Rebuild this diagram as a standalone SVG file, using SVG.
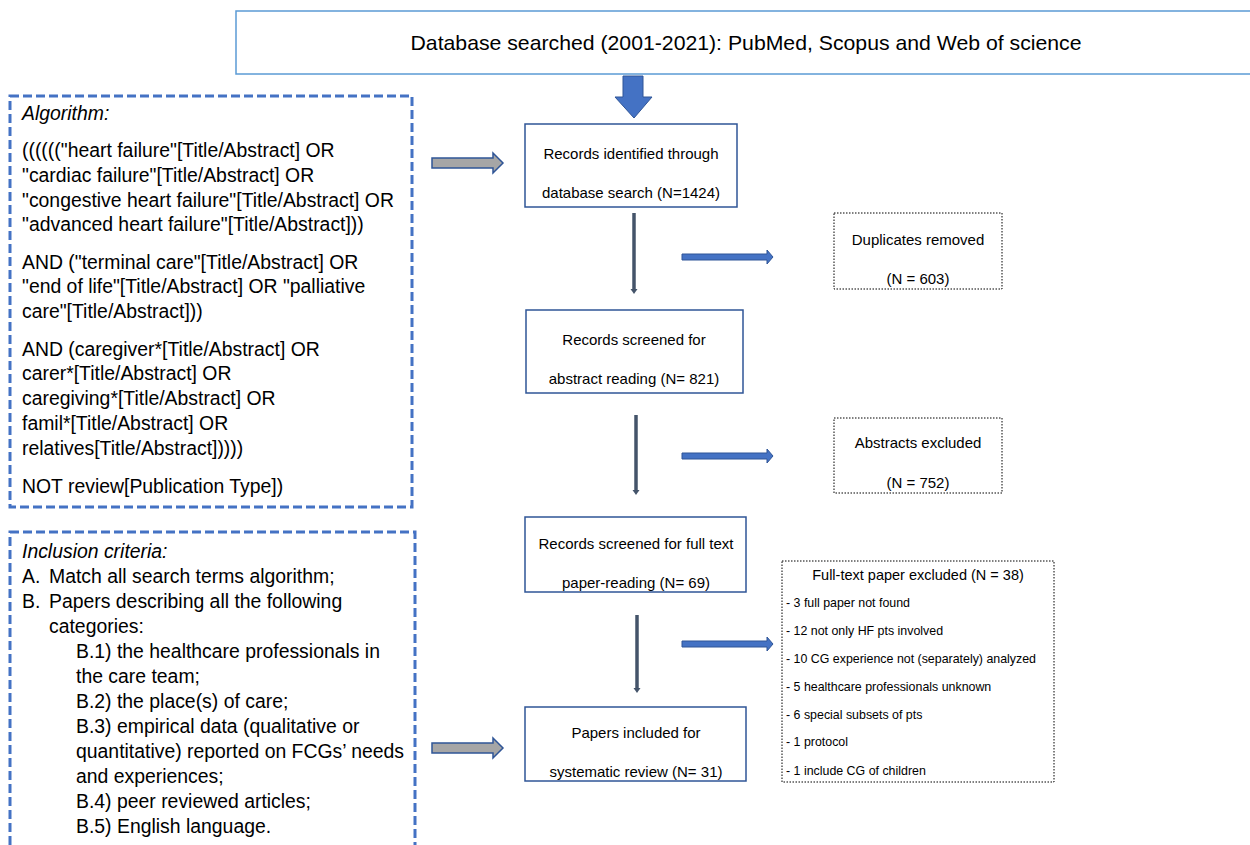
<svg xmlns="http://www.w3.org/2000/svg" width="1250" height="845" viewBox="0 0 1250 845">
<defs>
<style>
text{font-family:"Liberation Sans",Arial,sans-serif;fill:#000}
.big{font-size:19.4px}
.it{font-style:italic}
.box{font-size:15px;text-anchor:middle}
.dot{fill:#fff;stroke:#000;stroke-width:1;stroke-dasharray:1.5 1.5}
.flow{fill:#fff;stroke:#2F5597;stroke-width:1.5}
.dash{fill:none;stroke:#4472C4;stroke-width:3;stroke-dasharray:9 4}
.item{font-size:12.4px}
.gray{fill:#A6A6A6;stroke:#2F5597;stroke-width:1.5}
.blue{fill:#4472C4;stroke:#2F5597;stroke-width:1}
.vline{stroke:#44546A;stroke-width:3.5;fill:none}
.vhead{fill:#44546A}
</style>
</defs>
<rect width="1250" height="845" fill="#fff"/>

<g id="database">
<rect x="236" y="11" width="1030" height="63" fill="#fff" stroke="#5B9BD5" stroke-width="1.5"/>
<text x="746" y="50" font-size="21" text-anchor="middle" textLength="671" lengthAdjust="spacingAndGlyphs">Database searched (2001-2021): PubMed, Scopus and Web of science</text>
</g>

<g id="algorithm">
<rect x="10" y="96" width="402" height="411" class="dash"/>
<text class="big" x="22">
<tspan class="it" x="22" y="120">Algorithm:</tspan>
<tspan x="22" y="157">(((((("heart failure"[Title/Abstract] OR</tspan>
<tspan x="22" y="182">"cardiac failure"[Title/Abstract] OR</tspan>
<tspan x="22" y="207">"congestive heart failure"[Title/Abstract] OR</tspan>
<tspan x="22" y="231">"advanced heart failure"[Title/Abstract]))</tspan>
<tspan x="22" y="269">AND ("terminal care"[Title/Abstract] OR</tspan>
<tspan x="22" y="293">"end of life"[Title/Abstract] OR "palliative</tspan>
<tspan x="22" y="318">care"[Title/Abstract]))</tspan>
<tspan x="22" y="356">AND (caregiver*[Title/Abstract] OR</tspan>
<tspan x="22" y="380">carer*[Title/Abstract] OR</tspan>
<tspan x="22" y="405">caregiving*[Title/Abstract] OR</tspan>
<tspan x="22" y="430">famil*[Title/Abstract] OR</tspan>
<tspan x="22" y="455">relatives[Title/Abstract]))))</tspan>
<tspan x="22" y="493">NOT review[Publication Type])</tspan>
</text>
</g>

<g id="inclusion">
<rect x="10" y="532" width="405" height="330" class="dash"/>
<text class="big">
<tspan class="it" x="22" y="558">Inclusion criteria:</tspan>
<tspan x="22" y="583">A.</tspan><tspan x="49" y="583">Match all search terms algorithm;</tspan>
<tspan x="22" y="608">B.</tspan><tspan x="49" y="608">Papers describing all the following</tspan>
<tspan x="49" y="633">categories:</tspan>
<tspan x="76" y="658">B.1) the healthcare professionals in</tspan>
<tspan x="76" y="683">the care team;</tspan>
<tspan x="76" y="708">B.2) the place(s) of care;</tspan>
<tspan x="76" y="733">B.3) empirical data (qualitative or</tspan>
<tspan x="76" y="758">quantitative) reported on FCGs’ needs</tspan>
<tspan x="76" y="783">and experiences;</tspan>
<tspan x="76" y="808">B.4) peer reviewed articles;</tspan>
<tspan x="76" y="833">B.5) English language.</tspan>
</text>
</g>

<g id="identified">
<rect x="525" y="124" width="212" height="83" class="flow"/>
<text class="box" x="631" y="159">Records identified through</text>
<text class="box" x="631" y="198">database search (N=1424)</text>
</g>

<g id="screened-abstract">
<rect x="526" y="310" width="217" height="83" class="flow"/>
<text class="box" x="634" y="345">Records screened for</text>
<text class="box" x="634" y="384">abstract reading (N= 821)</text>
</g>

<g id="screened-full">
<rect x="525" y="517" width="221" height="75" class="flow"/>
<text class="box" x="636" y="549">Records screened for full text</text>
<text class="box" x="636" y="588">paper-reading  (N= 69)</text>
</g>

<g id="included">
<rect x="525" y="707" width="221" height="74" class="flow"/>
<text class="box" x="636" y="738">Papers included for</text>
<text class="box" x="636" y="777">systematic review (N= 31)</text>
</g>

<g id="duplicates">
<rect x="834" y="213" width="168" height="76" class="dot"/>
<text class="box" x="918" y="245">Duplicates removed</text>
<text class="box" x="918" y="284">(N = 603)</text>
</g>

<g id="abstracts-excluded">
<rect x="834" y="418" width="168" height="75" class="dot"/>
<text class="box" x="918" y="448">Abstracts excluded</text>
<text class="box" x="918" y="488">(N = 752)</text>
</g>

<g id="fulltext-excluded">
<rect x="782" y="561" width="272" height="221" class="dot"/>
<text x="918" y="580" font-size="14.5" text-anchor="middle">Full-text paper excluded  (N = 38)</text>
<text class="item">
<tspan x="786" y="607">- 3 full paper not found</tspan>
<tspan x="786" y="635">- 12 not only HF pts involved</tspan>
<tspan x="786" y="663">- 10 CG experience not (separately) analyzed</tspan>
<tspan x="786" y="691">- 5 healthcare professionals unknown</tspan>
<tspan x="786" y="719">- 6 special subsets of pts</tspan>
<tspan x="786" y="746">- 1 protocol</tspan>
<tspan x="786" y="775">- 1 include CG of children</tspan>
</text>
</g>

<g id="connectors">
<polygon class="blue" points="623,76 643,76 643,97 652,97 634,118 615,97 623,97"/>
<polygon class="gray" points="432,158 493,158 493,153 503,163 493,173 493,168 432,168"/>
<polygon class="gray" points="432,743 493,743 493,738 503,748 493,758 493,753 432,753"/>
<line class="vline" x1="634" y1="213" x2="634" y2="290"/>
<polygon class="vhead" points="630.5,289 637.5,289 634,294"/>
<line class="vline" x1="636" y1="415" x2="636" y2="491"/>
<polygon class="vhead" points="632.5,490 639.5,490 636,495"/>
<line class="vline" x1="637" y1="615" x2="637" y2="689"/>
<polygon class="vhead" points="633.5,688 640.5,688 637,693"/>
<polygon class="blue" points="682,254 767,254 767,250 773,257 767,264 767,260 682,260"/>
<polygon class="blue" points="682,453 767,453 767,449 773,456 767,463 767,459 682,459"/>
<polygon class="blue" points="682,641 767,641 767,637 773,644 767,651 767,647 682,647"/>
</g>
</svg>
